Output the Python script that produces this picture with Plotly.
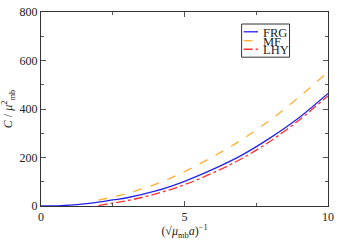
import plotly.graph_objects as go

frg_x = [0, 0.5, 1, 1.5, 2, 2.5, 3, 4, 5, 6, 7, 8, 9, 10]
frg_y = [0, 0.5, 4, 9, 16, 25, 34, 62, 102, 152, 210, 282, 365, 464]

mf_x = [2, 3, 4, 5, 6, 7, 8, 9, 10]
mf_y = [24, 52, 90, 142, 204, 274, 356, 450, 553]

lhy_x = [2, 2.5, 3, 4, 5, 6, 7, 8, 9, 10]
lhy_y = [2, 12, 22, 50, 88, 137, 196, 268, 355, 454]

series_names = ["FRG", "MF", "LHY"]
series_colors = ["#2222ee", "#ffb030", "#ff3030"]
series_dash = ["solid", "dash", "dashdot"]

x_ticks = [0, 5, 10]
y_ticks = [0, 200, 400, 600, 800]

serif = "Liberation Serif, Times New Roman, serif"

fig = go.Figure()
for xs, ys, name, col, dash in zip([frg_x, mf_x, lhy_x], [frg_y, mf_y, lhy_y],
                                   series_names, series_colors, series_dash):
    fig.add_trace(go.Scatter(x=xs, y=ys, mode="lines", name=name, showlegend=False,
                             line=dict(color=col, width=1.3, dash=dash, shape="spline")))

# compact legend box (plotly's native legend rows are too tall)
lx0, lx1, ly0, ly1 = 0.699, 0.866, 0.767, 0.938
fig.add_shape(type="rect", xref="paper", yref="paper", x0=lx0, x1=lx1, y0=ly0, y1=ly1,
              line=dict(color="#333333", width=1), fillcolor="white", layer="above")
row_y = [0.898, 0.852, 0.808]
for yy, name, col, dash in zip(row_y, series_names, series_colors, series_dash):
    fig.add_shape(type="line", xref="paper", yref="paper", x0=0.706, x1=0.756, y0=yy, y1=yy,
                  line=dict(color=col, width=1.3, dash=dash), layer="above")
    fig.add_annotation(xref="paper", yref="paper", x=0.771, y=yy, text=name, showarrow=False,
                       xanchor="left", yanchor="middle", yshift=-1,
                       borderpad=0, font=dict(family=serif, size=12.5, color="#222"))

axis_common = dict(showline=True, linecolor="#333333", linewidth=1, mirror="allticks",
                   ticks="inside", ticklen=5, tickcolor="#555555", showgrid=False,
                   zeroline=False, ticklabeloverflow="allow",
                   tickfont=dict(family=serif, size=12, color="#222"))

fig.update_xaxes(range=[0, 10], tickvals=x_ticks, ticktext=[str(v) for v in x_ticks],
                 minor=dict(ticks="inside", ticklen=3, dtick=2.5, tickcolor="#555555"),
                 title=dict(text="(√<i>μ</i><sub>mb</sub><i>a</i>)<sup>−1</sup>",
                            font=dict(family=serif, size=12, color="#222"), standoff=2),
                 **axis_common)
fig.update_yaxes(range=[0, 800], tickvals=y_ticks, ticktext=[str(v) for v in y_ticks],
                 minor=dict(ticks="inside", ticklen=3, dtick=100, tickcolor="#555555"),
                 title=dict(text="<i>C</i> / <i>μ</i><sup>2</sup><sub>mb</sub>",
                            font=dict(family=serif, size=12, color="#222"), standoff=4),
                 **axis_common)

fig.update_layout(width=339, height=240, margin=dict(l=41, r=6, t=5, b=31),
                  plot_bgcolor="white", paper_bgcolor="white", showlegend=False)
fig.write_html("out.html", config={"displayModeBar": False},
               post_script="document.body.style.margin='0';document.body.style.padding='0';")
